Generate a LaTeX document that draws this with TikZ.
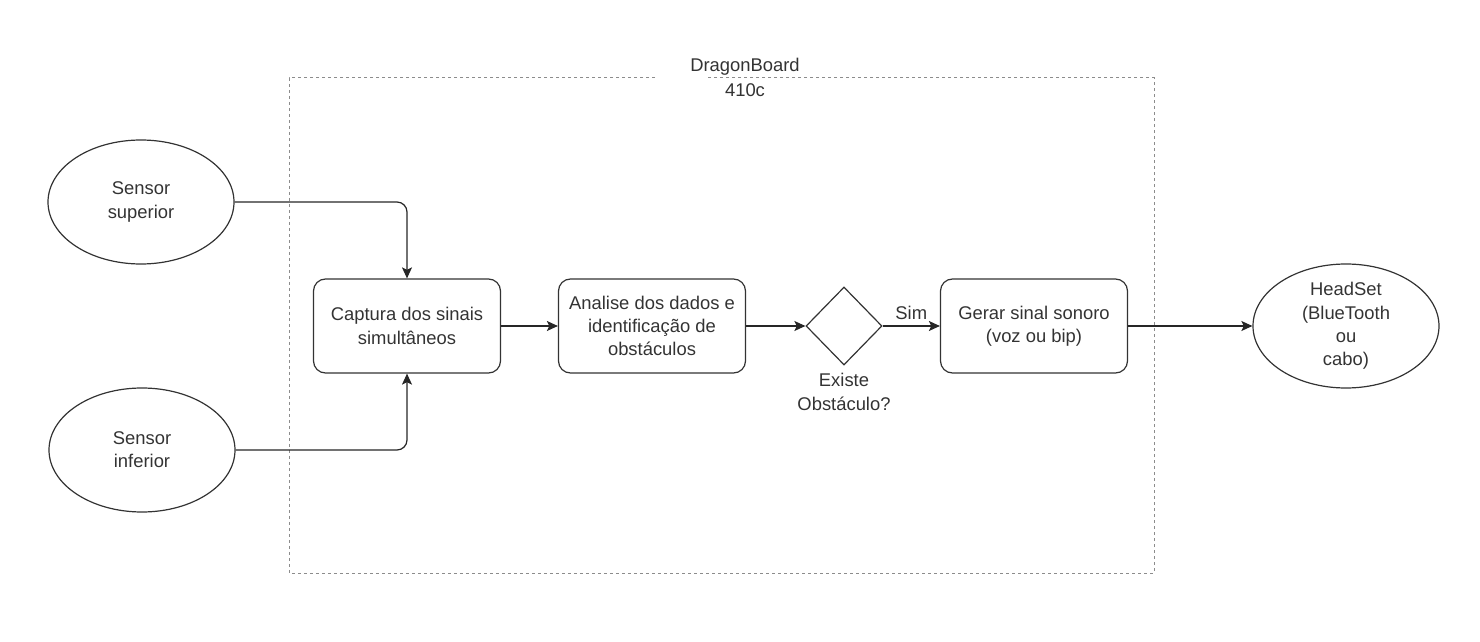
\documentclass[tikz,border=0pt]{standalone}
\usepackage{fontspec}
\setmainfont{Liberation Sans}
\usetikzlibrary{shapes.geometric,arrows.meta}
\begin{document}
\begin{tikzpicture}[x=0.5pt,y=-0.5pt,
  font=\fontsize{9.2pt}{11.6pt}\selectfont,
  txt/.style={text=black!80, align=center},
  ell/.style={ellipse, draw=black!80, line width=0.6pt, inner sep=0pt, minimum width=93pt, minimum height=62pt, txt},
  proc/.style={rectangle, rounded corners=6pt, draw=black!80, line width=0.6pt, inner sep=0pt, minimum width=93.5pt, minimum height=47pt, txt},
  dec/.style={diamond, draw=black!80, line width=0.6pt, inner sep=0pt, minimum width=38pt, minimum height=39pt},
  conn/.style={draw=black!85, line width=0.6pt, -{Stealth[length=5.5pt,width=5pt,inset=1.2pt]}},
  frame/.style={draw=black!45, line width=0.5pt, dash pattern=on 1.4pt off 1.6pt}
]
\useasboundingbox (0,0) rectangle (1480,642);
% container
\draw[frame] (655,78) -- (289,78) -- (289,573) -- (1154,573) -- (1154,78) -- (708,78);
\node[txt, font=\fontsize{9.2pt}{12.5pt}\selectfont] (lbl) at (745,77) {DragonBoard\\410c};
% nodes
\node[ell] (s1) at (141,202) {Sensor\\superior};
\node[ell] (s2) at (142,450) {Sensor\\inferior};
\node[proc] (c) at (407,326) {Captura dos sinais\\simultâneos};
\node[proc] (a) at (652,326) {Analise dos dados e\\identificação de\\obstáculos};
\node[dec] (d) at (844,326) {};
\node[txt] (dl) at (844,392) {Existe\\Obstáculo?};
\node[proc] (g) at (1034,326) {Gerar sinal sonoro\\(voz ou bip)};
\node[ell] (h) at (1346,326) {HeadSet\\(BlueTooth\\ou\\cabo)};
% connectors
\draw[conn, rounded corners=5pt] (s1.east) -| (c.north);
\draw[conn, rounded corners=5pt] (s2.east) -| (c.south);
\draw[conn] (c) -- (a);
\draw[conn] (a) -- (d);
\draw[conn] (d) -- node[txt, above, inner sep=3pt] (sim) {Sim} (g);
\draw[conn] (g) -- (h);
\end{tikzpicture}
\end{document}
